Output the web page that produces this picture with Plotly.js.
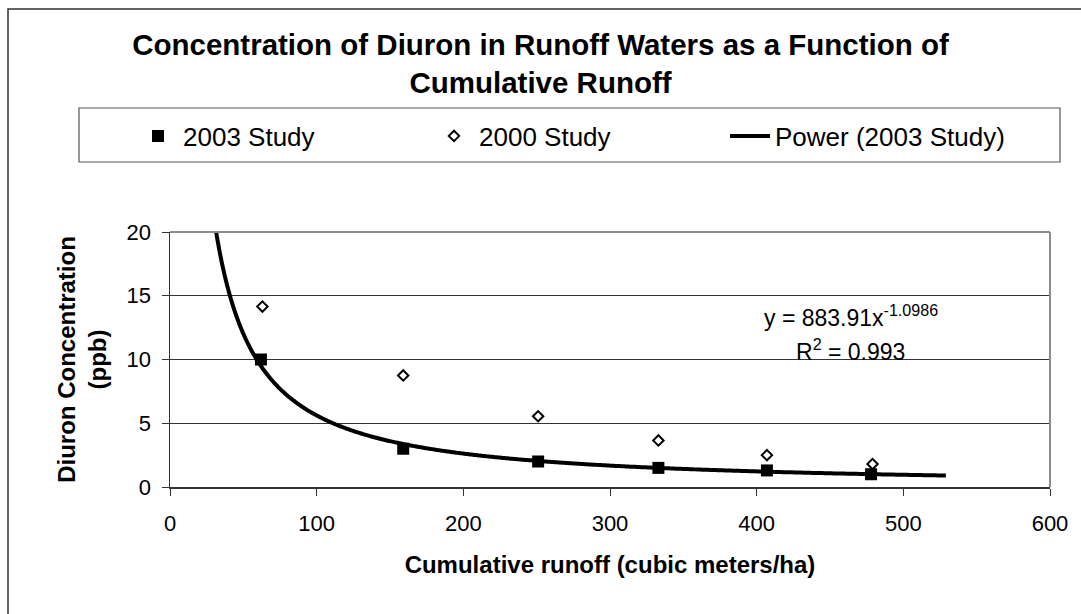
<!DOCTYPE html>
<html><head><meta charset="utf-8">
<script src="https://cdn.plot.ly/plotly-3.0.1.min.js"></script>
<style>html,body{margin:0;padding:0;background:#fff;overflow:hidden;} #chart{width:1081px;height:614px;}</style>
</head><body><div id="chart"></div>
<script>
// ---- data ----
const runoff2003 = [62, 159, 251, 333, 407, 478];
const conc2003   = [10.0, 3.0, 2.0, 1.5, 1.3, 1.0];
const runoff2000 = [63, 159, 251, 333, 407, 479];
const conc2000   = [14.15, 8.75, 5.55, 3.65, 2.5, 1.8];
const seriesNames = ['2003 Study', '2000 Study', 'Power (2003 Study)'];
// Excel power trendline shown on the chart: y = a * x^b
const powerA = 883.91;
const powerB = -1.0986;
const powerR2 = 0.993;
const fitXRange = [31.5, 529];
const xTickVals = [0, 100, 200, 300, 400, 500, 600];
const yTickVals = [0, 5, 10, 15, 20];

// trendline samples (fitted curve from the chart's equation)
const fitX = [], fitY = [];
const nFit = 300;
for (let i = 0; i <= nFit; i++) {
  const x = fitXRange[0] * Math.pow(fitXRange[1] / fitXRange[0], i / nFit);
  fitX.push(x);
  fitY.push(powerA * Math.pow(x, powerB));
}

// ---- layout geometry ----
const W = 1081, H = 614;
const PL = 170, PR = 1050, PT = 232, PB = 487;
const px2x = px => (px - PL) / (PR - PL);
const px2y = py => (PB - py) / (PB - PT);
const FONT = 'Liberation Sans, Arial, sans-serif';

const traces = [
  {x: runoff2003, y: conc2003, name: seriesNames[0], type: 'scatter', mode: 'markers',
   marker: {symbol: 'square', size: 12, color: '#000', line: {width: 0}}},
  {x: runoff2000, y: conc2000, name: seriesNames[1], type: 'scatter', mode: 'markers',
   marker: {symbol: 'diamond-open', size: 8, color: '#000', line: {width: 2, color: '#000'}}},
  {x: fitX, y: fitY, name: seriesNames[2], type: 'scatter', mode: 'lines',
   line: {color: '#000', width: 4, shape: 'spline', smoothing: 0.5}}
];

const layout = {
  width: W, height: H,
  paper_bgcolor: '#fff', plot_bgcolor: '#fff',
  margin: {l: PL, r: W - PR, t: PT, b: H - PB, pad: 0},
  font: {family: FONT, color: '#000'},
  title: {
    text: '<b>Concentration of Diuron in Runoff Waters as a Function of<br>Cumulative Runoff</b>',
    font: {family: FONT, size: 29.5, color: '#000'},
    x: 0.5, xref: 'container', xanchor: 'center',
    y: 1 - 54.5 / H, yref: 'container', yanchor: 'middle'
  },
  xaxis: {
    range: [0, 600], tickvals: xTickVals, ticktext: xTickVals.map(String),
    showgrid: false, zeroline: false,
    showline: true, linecolor: '#333', linewidth: 1.5,
    ticks: 'outside', ticklen: 7, tickcolor: '#333', tickwidth: 1,
    ticklabelstandoff: 9,
    tickfont: {family: FONT, size: 22, color: '#000'},
    title: {text: '<b>Cumulative runoff (cubic meters/ha)</b>', font: {family: FONT, size: 24, color: '#000'}, standoff: 21}
  },
  yaxis: {
    range: [0, 20], tickvals: yTickVals, ticktext: yTickVals.map(String),
    showgrid: true, gridcolor: '#333', gridwidth: 1, zeroline: false,
    showline: true, linecolor: '#333', linewidth: 1.5,
    ticks: 'outside', ticklen: 7, tickcolor: '#333', tickwidth: 1,
    ticklabelstandoff: 6,
    tickfont: {family: FONT, size: 22, color: '#000'},
    title: {text: '<b>Diuron Concentration<br>(ppb)</b>', font: {family: FONT, size: 24, color: '#000'}, standoff: 13}
  },
  showlegend: true,
  legend: {
    orientation: 'h', x: px2x(133), xanchor: 'left', y: px2y(136), yanchor: 'middle',
    xref: 'paper', yref: 'paper',
    bgcolor: 'rgba(0,0,0,0)', borderwidth: 0,
    font: {family: FONT, size: 26, color: '#000'},
    entrywidth: 241, entrywidthmode: 'pixels', itemwidth: 40,
    traceorder: 'normal'
  },
  shapes: [
    // outer chart border
    {type: 'rect', xref: 'paper', yref: 'paper', x0: px2x(8), x1: px2x(1200), y0: px2y(9), y1: px2y(700),
     line: {color: '#333', width: 1.5}, fillcolor: 'rgba(0,0,0,0)', layer: 'below'},
    // legend box
    {type: 'rect', xref: 'paper', yref: 'paper', x0: px2x(79), x1: px2x(1060), y0: px2y(162), y1: px2y(108),
     line: {color: '#555', width: 1.2}, fillcolor: 'rgba(0,0,0,0)', layer: 'below'},
    // plot area top and right border (gray)
    {type: 'line', xref: 'paper', yref: 'paper', x0: 0, x1: 1, y0: 1, y1: 1, line: {color: '#8c8c8c', width: 2}, layer: 'above'},
    {type: 'line', xref: 'paper', yref: 'paper', x0: 1, x1: 1, y0: 0, y1: 1, line: {color: '#8c8c8c', width: 2}, layer: 'above'}
  ],
  annotations: [
    {xref: 'x', yref: 'y', x: 464, y: 13.45, xanchor: 'center', yanchor: 'middle', showarrow: false,
     text: 'y = ' + powerA.toFixed(2) + 'x<sup>' + powerB.toFixed(4) + '</sup>',
     font: {family: FONT, size: 23, color: '#000'}},
    {xref: 'x', yref: 'y', x: 464, y: 10.75, xanchor: 'center', yanchor: 'middle', showarrow: false,
     text: 'R<sup>2</sup> = ' + powerR2.toFixed(3),
     font: {family: FONT, size: 23, color: '#000'}}
  ]
};

Plotly.newPlot('chart', traces, layout, {displayModeBar: false, staticPlot: true});
</script>
</body></html>
